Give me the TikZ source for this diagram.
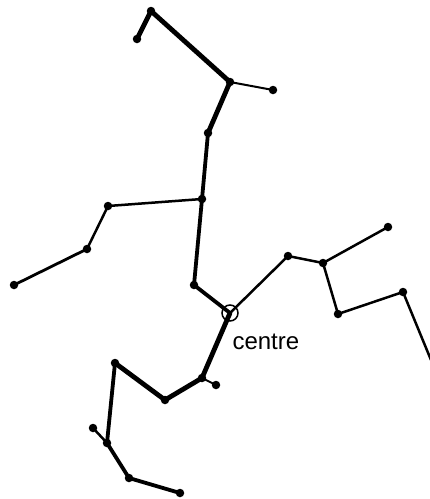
\documentclass[tikz,border=0pt]{standalone}
\usepackage{fontspec}
\setmainfont{Liberation Sans}
\usetikzlibrary{positioning}

\tikzset{
  dot/.style={circle, fill=black, inner sep=0pt, minimum size=8.5pt},
  trunk/.style={line width=4.8pt, line cap=round},
  limb/.style={line width=3.8pt, line cap=round},
  twig/.style={line width=2.5pt, line cap=round},
  hair/.style={line width=2pt, line cap=round}
}

\begin{document}
\begin{tikzpicture}[x=1pt, y=-1pt]
    \useasboundingbox (0,0) rectangle (430,499);
    % upper branch
    \node[dot] (tip) at (151,11) {};
    \node[dot] (hook) at (137,39) {};
    \node[dot] (fork) at (230,82) {};
    \node[dot] (spur) at (273,90) {};
    \node[dot] (knee) at (208,133) {};
    \node[dot] (elbow) at (202,199) {};
    \node[dot] (wl) at (108,206) {};
    \node[dot] (wm) at (87,249) {};
    \node[dot] (wr) at (14,285) {};
    \node[dot] (base) at (194,285) {};
    % centre
    \coordinate (centre) at (230,313);
    \node[font=\fontsize{24}{24}\selectfont, anchor=west] (lab) at (229,342) {centre};
    % right branch
    \node[dot] (ra) at (288,256) {};
    \node[dot] (rb) at (323,263) {};
    \node[dot] (rc) at (388,227) {};
    \node[dot] (rd) at (338,314) {};
    \node[dot] (re) at (403,292) {};
    \coordinate (rf) at (431,360);
    % lower branch
    \node[dot] (la) at (202,378) {};
    \node[dot] (lb) at (216,385) {};
    \node[dot] (lc) at (165,400) {};
    \node[dot] (ld) at (115,363) {};
    \node[dot] (le) at (107,443) {};
    \node[dot] (lf) at (93,428) {};
    \node[dot] (lg) at (129,478) {};
    \node[dot] (lh) at (180,493) {};

    \draw[trunk] (hook.center) -- (tip.center) -- (fork.center) -- (knee.center);
    \draw[hair] (fork.center) -- (spur.center);
    \draw[limb] (knee.center) -- (elbow.center) -- (base.center) -- (centre);
    \draw[twig] (elbow.center) -- (wl.center) -- (wm.center);
    \draw[line width=2.8pt, line cap=round] (wm.center) -- (wr.center);
    \draw[twig] (centre) -- (ra.center) -- (rb.center) -- (rc.center);
    \draw[twig] (rb.center) -- (rd.center) -- (re.center) -- (rf);
    \draw[trunk] (centre) -- (la.center) -- (lc.center) -- (ld.center);
    \draw[hair] (la.center) -- (lb.center);
    \draw[limb] (ld.center) -- (le.center) -- (lg.center) -- (lh.center);
    \draw[twig] (le.center) -- (lf.center);
    \node[circle, draw, line width=1.5pt, minimum size=16pt, inner sep=0pt] (ring) at (centre) {};
\end{tikzpicture}
\end{document}
